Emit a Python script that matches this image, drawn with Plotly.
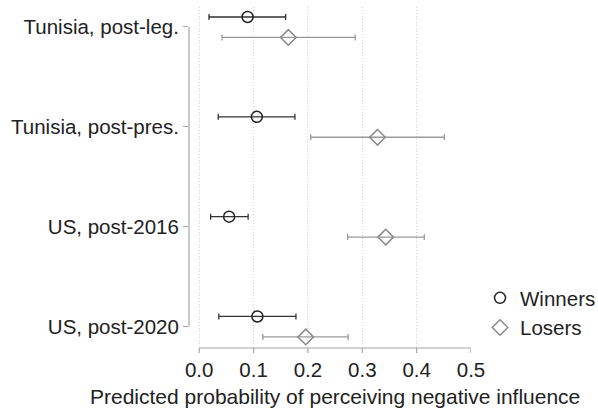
import plotly.graph_objects as go

categories = ["Tunisia, post-leg.", "Tunisia, post-pres.", "US, post-2016", "US, post-2020"]
winners = [0.089, 0.106, 0.055, 0.107]
winners_lo = [0.018, 0.035, 0.021, 0.036]
winners_hi = [0.159, 0.176, 0.090, 0.178]
losers = [0.164, 0.328, 0.343, 0.196]
losers_lo = [0.042, 0.205, 0.273, 0.117]
losers_hi = [0.287, 0.451, 0.414, 0.274]
xticks = [0.0, 0.1, 0.2, 0.3, 0.4, 0.5]
xticktext = ["0.0", "0.1", "0.2", "0.3", "0.4", "0.5"]
xtitle = "Predicted probability of perceiving negative influence"

FONT = "Liberation Sans, Arial, sans-serif"
TXT = "#222222"
AX = "#a6a6a6"
PLOT_H = 409 - 7 - 61

idx = list(range(len(categories)))
yw = [i - 0.1 for i in idx]
yl = [i + 0.105 for i in idx]

fig = go.Figure()
fig.add_trace(go.Scatter(
    x=winners, y=yw, mode="markers", name="Winners",
    marker=dict(symbol="circle-open", size=11, color="#222222", line=dict(width=1.5)),
    error_x=dict(type="data", symmetric=False,
                 array=[h - v for h, v in zip(winners_hi, winners)],
                 arrayminus=[v - l for v, l in zip(winners, winners_lo)],
                 color="#333333", thickness=1.3, width=3),
))
fig.add_trace(go.Scatter(
    x=losers, y=yl, mode="markers", name="Losers",
    marker=dict(symbol="diamond-open", size=12, color="#8a8a8a", line=dict(width=1.5)),
    error_x=dict(type="data", symmetric=False,
                 array=[h - v for h, v in zip(losers_hi, losers)],
                 arrayminus=[v - l for v, l in zip(losers, losers_lo)],
                 color="#999999", thickness=1.3, width=3),
))

# axis lines
fig.add_shape(type="line", xref="paper", yref="y", x0=0, x1=0, y0=0, y1=3,
              line=dict(color=AX, width=1.2))
fig.add_shape(type="line", xref="x", yref="paper", x0=0, x1=0.5, y0=0, y1=0,
              line=dict(color=AX, width=1.2))
# x tick marks
for v in xticks:
    fig.add_shape(type="line", xref="x", yref="paper", x0=v, x1=v, y0=0, y1=-5 / PLOT_H,
                  line=dict(color=AX, width=1.2))

# x-axis title
fig.add_annotation(text=xtitle, xref="x", yref="paper", x=0.25, y=-48 / PLOT_H,
                   xanchor="center", yanchor="middle", showarrow=False,
                   font=dict(size=21, color=TXT, family=FONT))

fig.update_layout(
    width=598, height=409,
    margin=dict(l=189, r=127, t=7, b=61, autoexpand=False),
    paper_bgcolor="white", plot_bgcolor="white",
    font=dict(family=FONT, size=20.5, color=TXT),
    showlegend=True,
    legend=dict(x=1.032, xanchor="left", y=0.1026, yanchor="middle",
                font=dict(size=20.5, color=TXT), bgcolor="rgba(0,0,0,0)",
                tracegroupgap=0, itemwidth=30),
    xaxis=dict(range=[-0.0188, 0.5], tickvals=xticks, ticktext=xticktext,
               showgrid=True, gridcolor="#d4d4d4", griddash="1px,2px", gridwidth=1,
               zeroline=False, showline=False, ticks="outside", ticklen=1,
               tickcolor="rgba(0,0,0,0)", tickwidth=1, ticklabelstandoff=2),
    yaxis=dict(range=[3.216, -0.2], tickvals=idx, ticktext=categories,
               showgrid=False, zeroline=False, showline=False,
               ticks="outside", ticklen=5, tickcolor=AX, tickwidth=1.2),
)

fig.write_html("out.html")
